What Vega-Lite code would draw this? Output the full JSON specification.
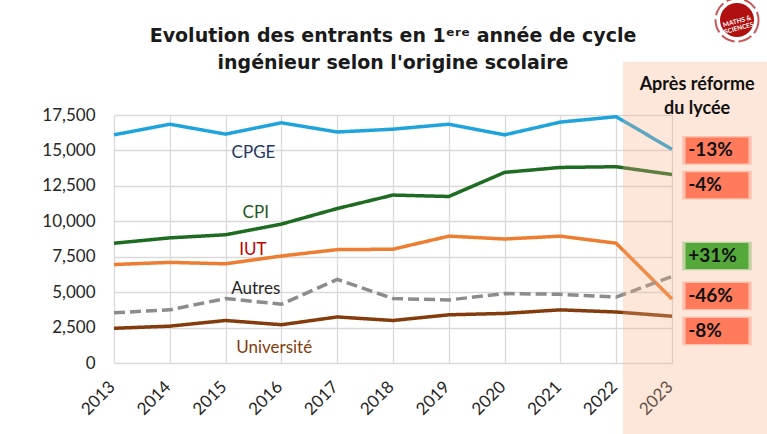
{
  "$schema": "https://vega.github.io/schema/vega-lite/v6.json",
  "width": 558,
  "height": 248,
  "autosize": {"type": "none"},
  "padding": {"left": 114, "top": 115, "right": 95, "bottom": 71},
  "background": "white",
  "config": {"font": "Lato", "view": {"stroke": null}},
  "resolve": {"axis": {"x": "independent", "y": "independent"}},
  "datasets": {
    "series": [
      {"year": 2013, "value": 16100, "serie": "CPGE"},
      {"year": 2014, "value": 16850, "serie": "CPGE"},
      {"year": 2015, "value": 16150, "serie": "CPGE"},
      {"year": 2016, "value": 16950, "serie": "CPGE"},
      {"year": 2017, "value": 16300, "serie": "CPGE"},
      {"year": 2018, "value": 16500, "serie": "CPGE"},
      {"year": 2019, "value": 16850, "serie": "CPGE"},
      {"year": 2020, "value": 16100, "serie": "CPGE"},
      {"year": 2021, "value": 17000, "serie": "CPGE"},
      {"year": 2022, "value": 17380, "serie": "CPGE"},
      {"year": 2023, "value": 15080, "serie": "CPGE"},
      {"year": 2013, "value": 8450, "serie": "CPI"},
      {"year": 2014, "value": 8830, "serie": "CPI"},
      {"year": 2015, "value": 9050, "serie": "CPI"},
      {"year": 2016, "value": 9800, "serie": "CPI"},
      {"year": 2017, "value": 10900, "serie": "CPI"},
      {"year": 2018, "value": 11850, "serie": "CPI"},
      {"year": 2019, "value": 11750, "serie": "CPI"},
      {"year": 2020, "value": 13450, "serie": "CPI"},
      {"year": 2021, "value": 13800, "serie": "CPI"},
      {"year": 2022, "value": 13850, "serie": "CPI"},
      {"year": 2023, "value": 13300, "serie": "CPI"},
      {"year": 2013, "value": 6950, "serie": "IUT"},
      {"year": 2014, "value": 7100, "serie": "IUT"},
      {"year": 2015, "value": 7000, "serie": "IUT"},
      {"year": 2016, "value": 7550, "serie": "IUT"},
      {"year": 2017, "value": 8000, "serie": "IUT"},
      {"year": 2018, "value": 8030, "serie": "IUT"},
      {"year": 2019, "value": 8950, "serie": "IUT"},
      {"year": 2020, "value": 8750, "serie": "IUT"},
      {"year": 2021, "value": 8950, "serie": "IUT"},
      {"year": 2022, "value": 8450, "serie": "IUT"},
      {"year": 2023, "value": 4520, "serie": "IUT"},
      {"year": 2013, "value": 3550, "serie": "Autres"},
      {"year": 2014, "value": 3750, "serie": "Autres"},
      {"year": 2015, "value": 4550, "serie": "Autres"},
      {"year": 2016, "value": 4150, "serie": "Autres"},
      {"year": 2017, "value": 5900, "serie": "Autres"},
      {"year": 2018, "value": 4550, "serie": "Autres"},
      {"year": 2019, "value": 4450, "serie": "Autres"},
      {"year": 2020, "value": 4900, "serie": "Autres"},
      {"year": 2021, "value": 4850, "serie": "Autres"},
      {"year": 2022, "value": 4650, "serie": "Autres"},
      {"year": 2023, "value": 6100, "serie": "Autres"},
      {"year": 2013, "value": 2450, "serie": "Université"},
      {"year": 2014, "value": 2600, "serie": "Université"},
      {"year": 2015, "value": 3000, "serie": "Université"},
      {"year": 2016, "value": 2700, "serie": "Université"},
      {"year": 2017, "value": 3250, "serie": "Université"},
      {"year": 2018, "value": 3000, "serie": "Université"},
      {"year": 2019, "value": 3400, "serie": "Université"},
      {"year": 2020, "value": 3500, "serie": "Université"},
      {"year": 2021, "value": 3750, "serie": "Université"},
      {"year": 2022, "value": 3600, "serie": "Université"},
      {"year": 2023, "value": 3300, "serie": "Université"}
    ],
    "labels": [
      {"serie": "CPGE", "year": 2015.5, "value": 14800},
      {"serie": "CPI", "year": 2015.54, "value": 10600},
      {"serie": "IUT", "year": 2015.49, "value": 7970},
      {"serie": "Autres", "year": 2015.54, "value": 5220},
      {"serie": "Université", "year": 2015.87, "value": 1060}
    ],
    "variations": [
      {"serie": "CPGE", "variation": "-13%", "change": -13, "pos": 15000},
      {"serie": "CPI", "variation": "-4%", "change": -4, "pos": 12550},
      {"serie": "Autres", "variation": "+31%", "change": 31, "pos": 7550},
      {"serie": "IUT", "variation": "-46%", "change": -46, "pos": 4730},
      {"serie": "Université", "variation": "-8%", "change": -8, "pos": 2260}
    ]
  },
  "layer": [
    {
      "data": {"name": "series"},
      "mark": {"type": "line", "strokeWidth": 3.5, "strokeCap": "butt", "strokeJoin": "miter"},
      "encoding": {
        "x": {
          "field": "year", "type": "quantitative",
          "scale": {"domain": [2013, 2023], "nice": false, "zero": false},
          "axis": {
            "title": null, "values": [2013, 2014, 2015, 2016, 2017, 2018, 2019, 2020, 2021, 2022, 2023],
            "format": "d", "labelAngle": -45, "labelAlign": "right", "labelBaseline": "middle",
            "labelPadding": 21, "labelOffset": -2, "labelFontSize": 17, "labelColor": "#262626", "labelFont": "Lato", "labelOverlap": false,
            "ticks": false, "tickSize": 0, "domain": false, "grid": true, "gridColor": "#D9D9D9", "gridWidth": 1.3
          }
        },
        "y": {
          "field": "value", "type": "quantitative",
          "scale": {"domain": [0, 17500], "nice": false},
          "axis": {
            "title": null, "values": [0, 2500, 5000, 7500, 10000, 12500, 15000, 17500],
            "format": ",.0f", "labelPadding": 19, "labelFontSize": 17, "labelColor": "#262626", "labelFont": "Lato", "labelOverlap": false,
            "ticks": false, "tickSize": 0, "domain": false, "grid": true, "gridColor": "#D9D9D9", "gridWidth": 1.3
          }
        },
        "color": {
          "field": "serie", "type": "nominal", "legend": null,
          "scale": {"domain": ["CPGE", "CPI", "IUT", "Autres", "Université"],
                    "range": ["#1FA3DB", "#1E6B22", "#ED7D31", "#8C8C8C", "#843C0C"]}
        },
        "strokeDash": {
          "field": "serie", "type": "nominal", "legend": null,
          "scale": {"domain": ["CPGE", "CPI", "IUT", "Autres", "Université"],
                    "range": [[1, 0], [1, 0], [1, 0], [11, 5], [1, 0]]}
        }
      }
    },
    {
      "data": {"name": "labels"},
      "mark": {"type": "text", "fontSize": 17, "font": "Lato", "align": "center", "baseline": "middle"},
      "encoding": {
        "x": {"field": "year", "type": "quantitative", "axis": null},
        "y": {"field": "value", "type": "quantitative", "axis": null},
        "text": {"field": "serie"},
        "fill": {
          "field": "serie", "type": "nominal", "legend": null,
          "scale": {"domain": ["CPGE", "CPI", "IUT", "Autres", "Université"],
                    "range": ["#1F3864", "#1E5620", "#C00000", "#262626", "#843C0C"]}
        }
      }
    },
    {
      "data": {"values": [{}]},
      "mark": {"type": "rect", "color": "#F4B183", "opacity": 0.3, "clip": false},
      "encoding": {
        "x": {"datum": 2022.12, "axis": null},
        "x2": {"datum": 2024.9},
        "y": {"datum": 21250, "axis": null},
        "y2": {"datum": -5300}
      }
    },
    {
      "data": {"values": [{}]},
      "mark": {"type": "text", "text": ["Evolution des entrants en 1ᵉʳᵉ année de cycle", "ingénieur selon l'origine scolaire"], "fontSize": 19, "fontWeight": "bold", "font": "DejaVu Sans", "color": "#1a1a1a", "align": "center", "baseline": "middle", "lineHeight": 27},
      "encoding": {
        "x": {"datum": 2018, "axis": null},
        "y": {"datum": 23040, "axis": null}
      }
    },
    {
      "data": {"values": [{}]},
      "mark": {"type": "text", "text": ["Après réforme", "du lycée"], "fontSize": 18, "fontWeight": "bold", "font": "Lato", "color": "#111111", "align": "center", "baseline": "middle", "lineHeight": 24},
      "encoding": {
        "x": {"datum": 2023.45, "axis": null},
        "y": {"datum": 19600, "axis": null}
      }
    },
    {
      "data": {"name": "variations"},
      "mark": {"type": "point", "shape": "M-1.21,-0.5H1.21V0.5H-1.21Z", "size": 3300, "filled": true, "opacity": 0.35, "strokeWidth": 0},
      "encoding": {
        "x": {"datum": 2023.806, "axis": null},
        "y": {"field": "pos", "type": "quantitative", "axis": null},
        "fill": {"condition": {"test": "datum.change > 0", "value": "#55A83A"}, "value": "#FF7B5C"}
      }
    },
    {
      "data": {"name": "variations"},
      "mark": {"type": "point", "shape": "M-1.21,-0.5H1.21V0.5H-1.21Z", "size": 2704, "filled": true, "opacity": 1, "strokeWidth": 0},
      "encoding": {
        "x": {"datum": 2023.806, "axis": null},
        "y": {"field": "pos", "type": "quantitative", "axis": null},
        "fill": {"condition": {"test": "datum.change > 0", "value": "#55A83A"}, "value": "#FF7B5C"}
      }
    },
    {
      "data": {"name": "variations"},
      "mark": {"type": "text", "fontSize": 19, "fontWeight": "bold", "font": "Lato", "color": "#111111", "align": "left", "baseline": "middle"},
      "encoding": {
        "x": {"datum": 2023.29, "axis": null},
        "y": {"field": "pos", "type": "quantitative", "axis": null},
        "text": {"field": "variation"}
      }
    },
    {
      "data": {"values": [{}]},
      "mark": {"type": "point", "shape": "circle", "size": 1850, "filled": false, "stroke": "#B01010", "strokeWidth": 2, "strokeDash": [14, 4], "clip": false},
      "encoding": {"x": {"datum": 2024.165, "axis": null}, "y": {"datum": 24200, "axis": null}}
    },
    {
      "data": {"values": [{}]},
      "mark": {"type": "point", "shape": "circle", "size": 1156, "filled": true, "fill": "#B01010", "opacity": 1, "strokeWidth": 0, "clip": false},
      "encoding": {"x": {"datum": 2024.165, "axis": null}, "y": {"datum": 24200, "axis": null}}
    },
    {
      "data": {"values": [{}]},
      "mark": {"type": "text", "text": ["MATHS &", "SCIENCES"], "fontSize": 6.5, "fontWeight": "bold", "font": "Lato", "color": "white", "align": "center", "baseline": "middle", "lineHeight": 7, "angle": -15},
      "encoding": {"x": {"datum": 2024.165, "axis": null}, "y": {"datum": 24100, "axis": null}}
    }
  ]
}
